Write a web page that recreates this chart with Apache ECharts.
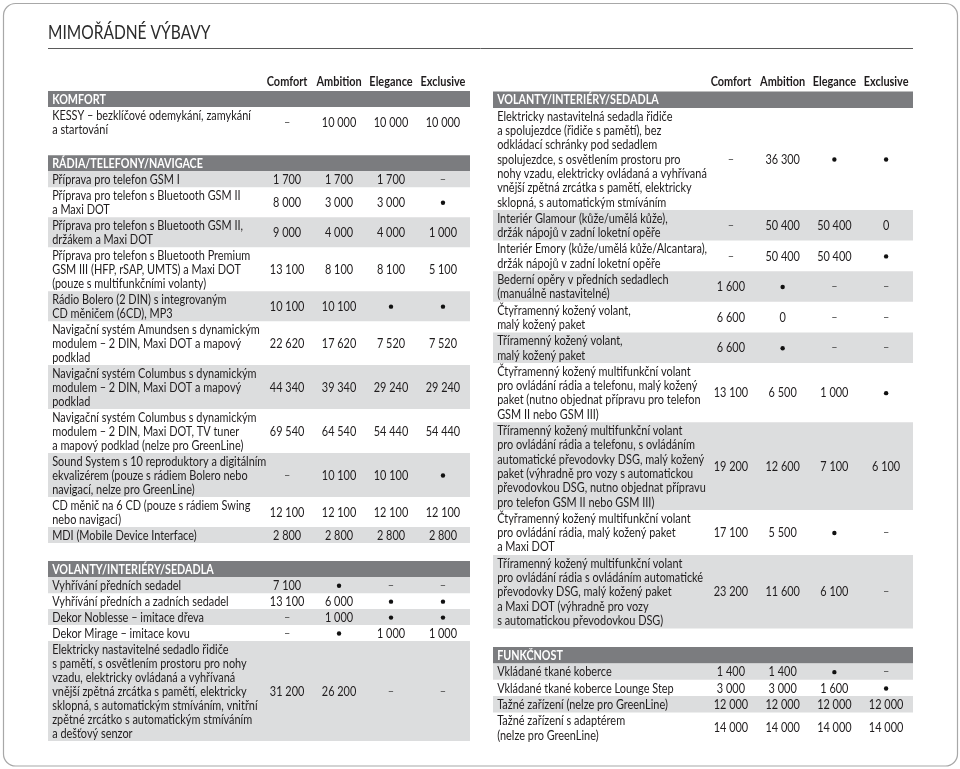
<!DOCTYPE html>
<html><head><meta charset="utf-8">
<script src="https://cdn.jsdelivr.net/npm/echarts@6/dist/echarts.min.js"></script>
<style>html,body{margin:0;padding:0;background:#fff}#c{width:960px;height:769px}</style>
</head><body><div id="c"></div>
<script>
// ---------- DATA ----------
const pageTitle = "MIMOŘÁDNÉ VÝBAVY";
const tiers = ["Comfort", "Ambition", "Elegance", "Exclusive"];
const STD = "S";   // • standardní výbava ; null = – (nelze)

const komfortTitle = "KOMFORT";
const komfortItems = [
  "KESSY – bezklíčové odemykání, zamykání\na startování"
];
const komfortPrices = [
  [null, 10000, 10000, 10000]
];

const radiaTitle = "RÁDIA/TELEFONY/NAVIGACE";
const radiaItems = [
  "Příprava pro telefon GSM I",
  "Příprava pro telefon s Bluetooth GSM II\na Maxi DOT",
  "Příprava pro telefon s Bluetooth GSM II,\ndržákem a Maxi DOT",
  "Příprava pro telefon s Bluetooth Premium\nGSM III (HFP, rSAP, UMTS) a Maxi DOT\n(pouze s multifunkčními volanty)",
  "Rádio Bolero (2 DIN) s integrovaným\nCD měničem (6CD), MP3",
  "Navigační systém Amundsen s dynamickým\nmodulem – 2 DIN, Maxi DOT a mapový\npodklad",
  "Navigační systém Columbus s dynamickým\nmodulem – 2 DIN, Maxi DOT a mapový\npodklad",
  "Navigační systém Columbus s dynamickým\nmodulem – 2 DIN, Maxi DOT, TV tuner\na mapový podklad (nelze pro GreenLine)",
  "Sound System s 10 reproduktory a digitálním\nekvalizérem (pouze s rádiem Bolero nebo\nnavigací, nelze pro GreenLine)",
  "CD měnič na 6 CD (pouze s rádiem Swing\nnebo navigací)",
  "MDI (Mobile Device Interface)"
];
const radiaPrices = [
  [1700, 1700, 1700, null],
  [8000, 3000, 3000, STD],
  [9000, 4000, 4000, 1000],
  [13100, 8100, 8100, 5100],
  [10100, 10100, STD, STD],
  [22620, 17620, 7520, 7520],
  [44340, 39340, 29240, 29240],
  [69540, 64540, 54440, 54440],
  [null, 10100, 10100, STD],
  [12100, 12100, 12100, 12100],
  [2800, 2800, 2800, 2800]
];

const volantyTitle = "VOLANTY/INTERIÉRY/SEDADLA";
const volantyLeftItems = [
  "Vyhřívání předních sedadel",
  "Vyhřívání předních a zadních sedadel",
  "Dekor Noblesse – imitace dřeva",
  "Dekor Mirage – imitace kovu",
  "Elektricky nastavitelné sedadlo řidiče\ns pamětí, s osvětlením prostoru pro nohy\nvzadu, elektricky ovládaná a vyhřívaná\nvnější zpětná zrcátka s pamětí, elektricky\nsklopná, s automatickým stmíváním, vnitřní\nzpětné zrcátko s automatickým stmíváním\na dešťový senzor"
];
const volantyLeftPrices = [
  [7100, STD, null, null],
  [13100, 6000, STD, STD],
  [null, 1000, STD, STD],
  [null, STD, 1000, 1000],
  [31200, 26200, null, null]
];

const volantyRightItems = [
  "Elektricky nastavitelná sedadla řidiče\na spolujezdce (řidiče s pamětí), bez\nodkládací schránky pod sedadlem\nspolujezdce, s osvětlením prostoru pro\nnohy vzadu, elektricky ovládaná a vyhřívaná\nvnější zpětná zrcátka s pamětí, elektricky\nsklopná, s automatickým stmíváním",
  "Interiér Glamour (kůže/umělá kůže),\ndržák nápojů v zadní loketní opěře",
  "Interiér Emory (kůže/umělá kůže/Alcantara),\ndržák nápojů v zadní loketní opěře",
  "Bederní opěry v předních sedadlech\n(manuálně nastavitelné)",
  "Čtyřramenný kožený volant,\nmalý kožený paket",
  "Tříramenný kožený volant,\nmalý kožený paket",
  "Čtyřramenný kožený multifunkční volant\npro ovládání rádia a telefonu, malý kožený\npaket (nutno objednat přípravu pro telefon\nGSM II nebo GSM III)",
  "Tříramenný kožený multifunkční volant\npro ovládání rádia a telefonu, s ovládáním\nautomatické převodovky DSG, malý kožený\npaket (výhradně pro vozy s automatickou\npřevodovkou DSG, nutno objednat přípravu\npro telefon GSM II nebo GSM III)",
  "Čtyřramenný kožený multifunkční volant\npro ovládání rádia, malý kožený paket\na Maxi DOT",
  "Tříramenný kožený multifunkční volant\npro ovládání rádia s ovládáním automatické\npřevodovky DSG, malý kožený paket\na Maxi DOT (výhradně pro vozy\ns automatickou převodovkou DSG)"
];
const volantyRightPrices = [
  [null, 36300, STD, STD],
  [null, 50400, 50400, 0],
  [null, 50400, 50400, STD],
  [1600, STD, null, null],
  [6600, 0, null, null],
  [6600, STD, null, null],
  [13100, 6500, 1000, STD],
  [19200, 12600, 7100, 6100],
  [17100, 5500, STD, null],
  [23200, 11600, 6100, null]
];

const funkcnostTitle = "FUNKČNOST";
const funkcnostItems = [
  "Vkládané tkané koberce",
  "Vkládané tkané koberce Lounge Step",
  "Tažné zařízení (nelze pro GreenLine)",
  "Tažné zařízení s adaptérem\n(nelze pro GreenLine)"
];
const funkcnostPrices = [
  [1400, 1400, STD, null],
  [3000, 3000, 1600, STD],
  [12000, 12000, 12000, 12000],
  [14000, 14000, 14000, 14000]
];

// ---------- LAYOUT / STYLE ----------
const FONT = 'Lato, "Open Sans", sans-serif';
const SX = 0.84;            // horizontal condensing of the humanist sans
const FS = 13;
const TXT = '#1f1c1d';
const HEAD_BG = '#7b7c7f';
const ZEBRA = '#dcddde';
const U = { line: 1, pad: 0.14, head: 1.15, gap: 1.3, colHead: -0.72, yMin: -1.5 };
const X_MIN = -4.6, X_MAX = 3.52, X_TEXT = -4.52;

function fmt(v) {
  if (v === null) return '–';
  return String(v).replace(/\B(?=(\d{3})+(?!\d))/g, ' ');
}

function txt(text, x, y, o) {
  return { type: 'text', x: x, y: y, scaleX: SX,
    style: Object.assign({ text: text, x: 0, y: 0, verticalAlign: 'middle', fill: TXT,
      fontSize: FS, fontFamily: FONT }, o || {}) };
}

function buildTable(sections) {
  const recs = [{ kind: 'cols', y0: U.colHead, y1: U.colHead }];
  let y = 0;
  sections.forEach((s, si) => {
    if (si > 0) y += U.gap;
    recs.push({ kind: 'head', y0: y, y1: y + U.head, label: s.title });
    y += U.head;
    s.items.forEach((lab, i) => {
      const n = lab.split('\n').length;
      const h = n * U.line + U.pad;
      recs.push({ kind: 'row', y0: y, y1: y + h, label: lab, values: s.prices[i], shaded: (i % 2) === s.shadeFrom });
      y += h;
    });
  });
  return { recs, total: y };
}

const leftTable = buildTable([
  { title: komfortTitle, items: komfortItems, prices: komfortPrices, shadeFrom: 1 },
  { title: radiaTitle, items: radiaItems, prices: radiaPrices, shadeFrom: 0 },
  { title: volantyTitle, items: volantyLeftItems, prices: volantyLeftPrices, shadeFrom: 0 }
]);
const rightTable = buildTable([
  { title: volantyTitle, items: volantyRightItems, prices: volantyRightPrices, shadeFrom: 1 },
  { title: funkcnostTitle, items: funkcnostItems, prices: funkcnostPrices, shadeFrom: 0 }
]);

function makeRender(recs) {
  return function (params, api) {
    const r = recs[api.value(2)];
    const p0 = api.coord([X_MIN, api.value(0)]);
    const p1 = api.coord([X_MAX, api.value(1)]);
    const unitPx = api.size([0, 1])[1];
    const midY = (p0[1] + p1[1]) / 2 + 0.5;
    const tx = api.coord([X_TEXT, 0])[0];
    const ch = [];
    if (r.kind === 'cols') {
      tiers.forEach((t, j) => {
        ch.push(txt(t, api.coord([j, 0])[0], midY, { align: 'center', fontWeight: 'bold' }));
      });
    } else if (r.kind === 'head') {
      ch.push({ type: 'rect', shape: { x: p0[0], y: p0[1], width: p1[0] - p0[0], height: p1[1] - p0[1] }, style: { fill: HEAD_BG } });
      ch.push(txt(r.label, tx, midY, { fill: '#fff', fontWeight: 'bold', fontSize: 12.8 }));
    } else {
      if (r.shaded) ch.push({ type: 'rect', shape: { x: p0[0], y: p0[1], width: p1[0] - p0[0], height: p1[1] - p0[1] }, style: { fill: ZEBRA } });
      ch.push(txt(r.label, tx, midY, { lineHeight: unitPx }));
      r.values.forEach((v, j) => {
        const cx = api.coord([j, 0])[0];
        if (v === STD) {
          ch.push({ type: 'circle', shape: { cx: cx, cy: midY, r: 2.2 }, style: { fill: '#111' } });
        } else {
          ch.push(txt(fmt(v), cx, midY, { align: 'center', fill: v === null ? '#555' : TXT }));
        }
      });
    }
    return { type: 'group', children: ch };
  };
}

const chart = echarts.init(document.getElementById('c'), null, { renderer: 'canvas' });
const axX = (gi) => ({ type: 'value', gridIndex: gi, min: X_MIN, max: X_MAX, show: false, splitLine: { show: false } });
const axY = (gi, t) => ({ type: 'value', gridIndex: gi, min: U.yMin, max: t.total, inverse: true, show: false, splitLine: { show: false } });

chart.setOption({
  animation: false,
  backgroundColor: '#fff',
  graphic: [
    { type: 'rect', shape: { x: 3.5, y: 3.5, width: 954, height: 762.5, r: 12 }, style: { fill: 'none', stroke: '#a8a8a8', lineWidth: 1.2 }, silent: true },
    { type: 'line', shape: { x1: 48, y1: 48.5, x2: 913, y2: 48.5 }, style: { stroke: '#5a5a5a', lineWidth: 1 }, silent: true },
    { type: 'text', x: 48, y: 33.5, scaleX: 0.84, silent: true,
      style: { text: pageTitle, x: 0, y: 0, verticalAlign: 'middle', fill: '#2b2b2b', fontSize: 18.5, fontFamily: FONT } }
  ],
  grid: [
    { left: 48, width: 422, top: 70, bottom: 28 },
    { left: 493, width: 420, top: 70, bottom: 26 }
  ],
  xAxis: [axX(0), axX(1)],
  yAxis: [axY(0, leftTable), axY(1, rightTable)],
  series: [
    { type: 'custom', xAxisIndex: 0, yAxisIndex: 0, renderItem: makeRender(leftTable.recs),
      encode: { y: [0, 1] }, data: leftTable.recs.map((r, i) => [r.y0, r.y1, i]) },
    { type: 'custom', xAxisIndex: 1, yAxisIndex: 1, renderItem: makeRender(rightTable.recs),
      encode: { y: [0, 1] }, data: rightTable.recs.map((r, i) => [r.y0, r.y1, i]) }
  ]
});
</script></body></html>
